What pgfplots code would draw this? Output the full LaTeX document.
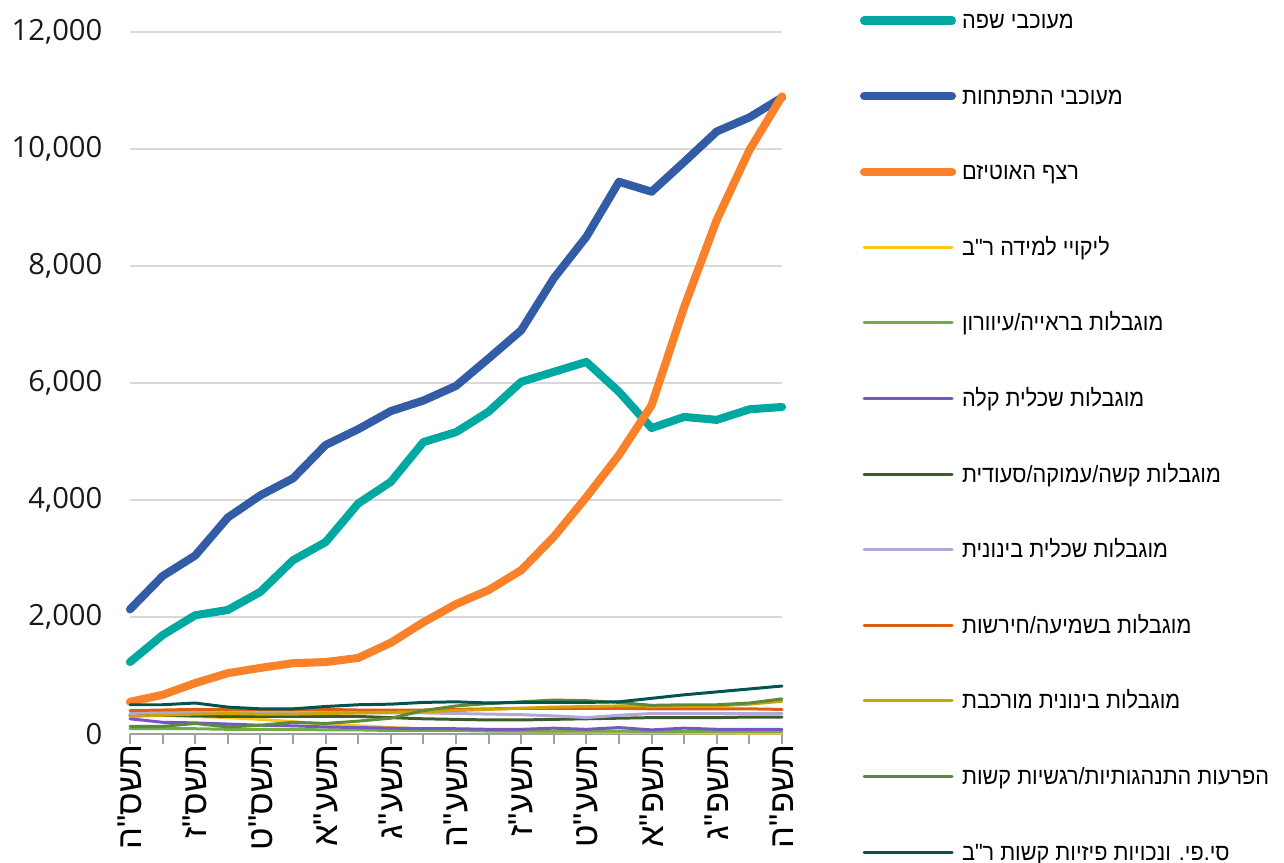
\documentclass[border=0pt]{standalone}
\usepackage{pgfplots}
\pgfplotsset{compat=1.18}
\usepackage{pgfplotstable}
\usepackage{fontspec}
\setmainfont{Liberation Sans}
\newfontfamily\hebfont[Script=Hebrew]{Liberation Sans}
\newfontfamily\heblegend[Script=Hebrew, FakeStretch=0.92]{Liberation Sans}
\newfontfamily\tickfont{Open Sans}
\TeXXeTstate=1

\definecolor{clang}{HTML}{00A8A2}
\definecolor{cdev}{HTML}{335CA6}
\definecolor{caut}{HTML}{F9812A}
\definecolor{cld}{HTML}{FFC61E}
\definecolor{cvis}{HTML}{70AD47}
\definecolor{cmild}{HTML}{7657C1}
\definecolor{csev}{HTML}{3B5B2A}
\definecolor{cmod}{HTML}{B3A6DC}
\definecolor{chear}{HTML}{DE5F0F}
\definecolor{cmodc}{HTML}{CDA400}
\definecolor{cbeh}{HTML}{5C8A3B}
\definecolor{ccp}{HTML}{005450}
\definecolor{gridgray}{HTML}{D9D9D9}
\definecolor{axisgray}{HTML}{A0A0A0}

\pgfplotstableread{
x lang dev aut ld vis mild sev mod hear modc beh cp
0 1230 2130 550 330 90 260 320 350 400 300 130 500
1 1690 2700 670 320 90 200 320 370 410 320 130 500
2 2030 3050 870 300 90 190 310 380 420 340 180 530
3 2120 3700 1040 280 80 170 300 370 420 350 120 460
4 2430 4080 1130 250 80 150 300 370 420 340 150 430
5 2970 4370 1210 210 80 140 300 370 420 340 200 430
6 3280 4940 1230 170 70 120 300 370 420 350 180 470
7 3940 5210 1300 140 70 110 300 360 410 360 220 500
8 4310 5520 1560 110 60 100 280 360 410 370 270 510
9 4990 5700 1910 90 60 90 260 360 410 380 400 540
10 5160 5950 2220 70 60 90 250 350 420 400 480 550
11 5510 6420 2460 60 50 80 240 340 430 420 520 530
12 6020 6900 2800 50 50 80 240 330 440 440 550 540
13 6190 7790 3370 40 50 100 250 310 440 460 580 540
14 6360 8500 4050 35 50 80 260 280 440 470 570 540
15 5850 9440 4770 30 50 110 270 320 440 480 540 550
16 5230 9270 5620 25 40 70 280 350 430 480 490 610
17 5420 9780 7300 20 40 100 280 350 430 470 500 670
18 5370 10300 8790 20 40 80 280 350 430 480 500 720
19 5550 10540 9980 15 40 80 290 350 430 510 530 770
20 5590 10880 10900 15 40 80 290 350 420 560 600 820
}\datatable

\begin{document}
\begin{tikzpicture}
\useasboundingbox (-13mm,-12.9mm) rectangle (115.4mm,73.4mm);
\begin{axis}[
  at={(0,0)}, anchor=south west,
  scale only axis, width=65.2mm, height=70.2mm,
  xmin=0, xmax=20, ymin=0, ymax=12000,
  clip=false,
  axis x line*=bottom, axis y line*=left,
  y axis line style={draw=none},
  x axis line style={draw=axisgray, line width=0.6pt},
  xtick={0,2,...,20}, minor xtick={1,3,...,19},
  xtick align=outside,
  major tick length=1mm, minor tick length=1mm,
  tick style={draw=axisgray, line width=0.6pt},
  ytick={0,2000,...,12000},
  ytick style={draw=none},
  scaled y ticks=false,
  ymajorgrids, grid style={draw=gridgray, line width=0.6pt},
  xticklabels={{\beginR תשס"ה\endR},{\beginR תשס"ז\endR},{\beginR תשס"ט\endR},{\beginR תשע"א\endR},{\beginR תשע"ג\endR},{\beginR תשע"ה\endR},{\beginR תשע"ז\endR},{\beginR תשע"ט\endR},{\beginR תשפ"א\endR},{\beginR תשפ"ג\endR},{\beginR תשפ"ה\endR}},
  xticklabel style={font=\hebfont\fontsize{9.8}{12}\selectfont, text=black, rotate=90, anchor=east, inner sep=0pt},
  yticklabel style={font=\tickfont\fontsize{8.3}{10}\selectfont, text=black!90, inner sep=0pt, anchor=east, xshift=-2.7mm},
  /pgf/number format/1000 sep={,},
  /pgf/number format/assume math mode=true,
  every axis plot/.append style={line join=round, line cap=round},
  legend image code/.code={\draw[#1] (0mm,0.8mm) -- (8.8mm,0.8mm);},
  legend cell align=left,
  legend style={at={(1.1196,1.0299)}, anchor=north west, draw=none, fill=none,
    inner sep=0pt, outer sep=0pt,
    font=\heblegend\fontsize{6.7}{8}\selectfont, text=black,
    row sep=5.31mm, column sep=0.6mm,
    nodes={inner sep=0pt, text height=1.75mm, text depth=0.5mm, anchor=base west}},
]
\addplot[clang, line width=2.3pt] table[x=x,y=lang]{\datatable};
\addlegendentry{\beginR מעוכבי שפה\endR}
\addplot[cdev, line width=2.3pt] table[x=x,y=dev]{\datatable};
\addlegendentry{\beginR מעוכבי התפתחות\endR}
\addplot[caut, line width=2.3pt] table[x=x,y=aut]{\datatable};
\addlegendentry{\beginR רצף האוטיזם\endR}
\addplot[cld, line width=0.85pt] table[x=x,y=ld]{\datatable};
\addlegendentry{\beginR ליקויי למידה ר"ב\endR}
\addplot[cvis, line width=0.85pt] table[x=x,y=vis]{\datatable};
\addlegendentry{\beginR מוגבלות בראייה/עיוורון\endR}
\addplot[cmild, line width=0.85pt] table[x=x,y=mild]{\datatable};
\addlegendentry{\beginR מוגבלות שכלית קלה\endR}
\addplot[csev, line width=0.85pt] table[x=x,y=sev]{\datatable};
\addlegendentry{\beginR מוגבלות קשה/עמוקה/סעודית\endR}
\addplot[cmod, line width=0.85pt] table[x=x,y=mod]{\datatable};
\addlegendentry{\beginR מוגבלות שכלית בינונית\endR}
\addplot[chear, line width=0.85pt] table[x=x,y=hear]{\datatable};
\addlegendentry{\beginR מוגבלות בשמיעה/חירשות\endR}
\addplot[cmodc, line width=0.85pt] table[x=x,y=modc]{\datatable};
\addlegendentry{\beginR מוגבלות בינונית מורכבת\endR}
\addplot[cbeh, line width=0.85pt] table[x=x,y=beh]{\datatable};
\addlegendentry{\beginR הפרעות התנהגותיות/רגשיות קשות\endR}
\addplot[ccp, line width=0.85pt] table[x=x,y=cp]{\datatable};
\addlegendentry{\beginR סי.פי. ונכויות פיזיות קשות ר"ב\endR}
\end{axis}
\end{tikzpicture}
\end{document}
